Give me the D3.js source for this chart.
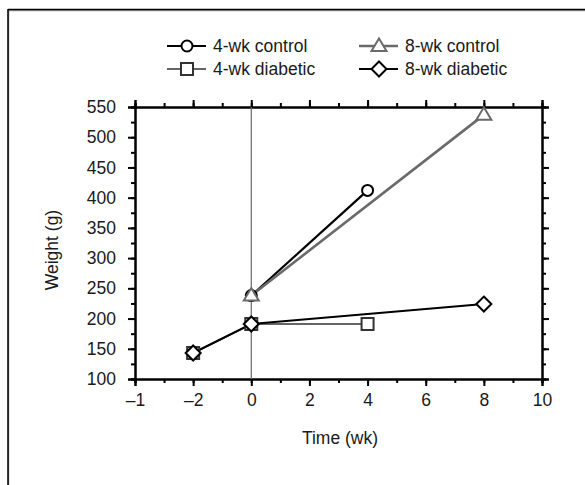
<!DOCTYPE html>
<html><head><meta charset="utf-8">
<script src="https://cdn.jsdelivr.net/npm/d3@7"></script>
<style>body{margin:0;background:#fff}svg{display:block}text{font-family:"Liberation Sans",Arial,sans-serif;fill:#1a1a1a}</style>
</head><body><svg id="c" width="585" height="485"></svg>
<script>
// ---- data ----
const xTickValues = [-4, -2, 0, 2, 4, 6, 8, 10];
const xTickLabels = ["\u20131", "\u20132", "0", "2", "4", "6", "8", "10"];
const yTickValues = [100, 150, 200, 250, 300, 350, 400, 450, 500, 550];
const seriesNames = ["4-wk control", "8-wk control", "4-wk diabetic", "8-wk diabetic"];
const ctrl4 = [{x: 0, y: 238}, {x: 4, y: 412}];
const ctrl8 = [{x: 0, y: 238}, {x: 8, y: 537}];
const diab4 = [{x: -2, y: 143}, {x: 0, y: 191}, {x: 4, y: 191}];
const diab8 = [{x: -2, y: 143}, {x: 0, y: 191}, {x: 8, y: 224}];

const FS = 17.5;
const svg = d3.select("#c");
const L = 135, R = 542, T = 107, B = 379;
const x = d3.scaleLinear().domain([-4, 10]).range([L, R]);
const y = d3.scaleLinear().domain([100, 550]).range([B, T]);

// outer frame (top and left only)
svg.append("line").attr("x1", 8).attr("x2", 585).attr("y1", 10.5).attr("y2", 10.5).attr("stroke", "#999").attr("stroke-width", 1.5);
svg.append("line").attr("x1", 8.5).attr("x2", 8.5).attr("y1", 10).attr("y2", 485).attr("stroke", "#999").attr("stroke-width", 1.5);
svg.append("line").attr("x1", 8).attr("x2", 585).attr("y1", 9.5).attr("y2", 9.5).attr("stroke", "#000").attr("stroke-width", 1.5);
svg.append("line").attr("x1", 8).attr("x2", 8).attr("y1", 9).attr("y2", 485).attr("stroke", "#000").attr("stroke-width", 1.5);

const minorX = d3.range(-4, 10.01, 1);
const minorY = d3.range(100, 550.01, 25);

function styleAxis(g) {
  g.select(".domain").attr("stroke", "#000").attr("stroke-width", 2);
  g.selectAll(".tick line").attr("stroke", "#000").attr("stroke-width", 2);
  g.selectAll("text").attr("font-size", FS).attr("font-family", "Liberation Sans, Arial").attr("fill", "#1a1a1a");
}

// minor ticks
const axes = [
  [d3.axisBottom(x).tickValues(minorX).tickSize(4).tickFormat(""), `translate(0,${B})`],
  [d3.axisTop(x).tickValues(minorX).tickSize(4).tickFormat(""), `translate(0,${T})`],
  [d3.axisLeft(y).tickValues(minorY).tickSize(4).tickFormat(""), `translate(${L},0)`],
  [d3.axisRight(y).tickValues(minorY).tickSize(4).tickFormat(""), `translate(${R},0)`]
];
axes.forEach(([a, t]) => svg.append("g").attr("transform", t).call(a).call(styleAxis));

// major ticks
svg.append("g").attr("transform", `translate(0,${B})`)
  .call(d3.axisBottom(x).tickValues(xTickValues).tickSize(7).tickPadding(8).tickFormat((d, i) => xTickLabels[i]))
  .call(styleAxis);
svg.append("g").attr("transform", `translate(0,${T})`)
  .call(d3.axisTop(x).tickValues(xTickValues).tickSize(7).tickFormat("")).call(styleAxis);
svg.append("g").attr("transform", `translate(${L},0)`)
  .call(d3.axisLeft(y).tickValues(yTickValues).tickSize(7).tickPadding(12))
  .call(styleAxis);
svg.append("g").attr("transform", `translate(${R},0)`)
  .call(d3.axisRight(y).tickValues(yTickValues).tickSize(7).tickFormat("")).call(styleAxis);

// vertical line at x = 0
svg.append("line").attr("x1", x(0)).attr("x2", x(0)).attr("y1", T).attr("y2", B).attr("stroke", "#666").attr("stroke-width", 1.2);

// axis titles
svg.append("text").attr("x", 340).attr("y", 444).attr("text-anchor", "middle").attr("font-size", FS).text("Time (wk)");
svg.append("text").attr("transform", `translate(58,250) rotate(-90)`).attr("text-anchor", "middle").attr("font-size", FS).text("Weight (g)");

const line = d3.line().x(d => x(d.x)).y(d => y(d.y));

const styles = [
  {data: ctrl4, color: "#000", w: 2.2, marker: "circle"},
  {data: ctrl8, color: "#6a6a6a", w: 2.6, marker: "triangle"},
  {data: diab4, color: "#333", w: 1.6, marker: "square"},
  {data: diab8, color: "#000", w: 2, marker: "diamond"}
];

function drawMarker(g, type, cx, cy, color) {
  if (type === "circle") g.append("circle").attr("cx", cx).attr("cy", cy).attr("r", 5.5);
  else if (type === "square") g.append("rect").attr("x", cx - 6).attr("y", cy - 6).attr("width", 12).attr("height", 12);
  else if (type === "diamond") g.append("path").attr("d", `M${cx},${cy - 7.5}L${cx + 7.5},${cy}L${cx},${cy + 7.5}L${cx - 7.5},${cy}Z`);
  else g.append("path").attr("d", `M${cx},${cy - 7.5}L${cx + 7.5},${cy + 5}L${cx - 7.5},${cy + 5}Z`);
  g.selectAll("*").attr("fill", "#fff").attr("stroke", color).attr("stroke-width", 2);
}

// lines
styles.forEach(s => {
  svg.append("path").datum(s.data).attr("d", line).attr("fill", "none").attr("stroke", s.color).attr("stroke-width", s.w);
});
// markers
[0, 2, 1, 3].forEach(i => {
  const s = styles[i];
  s.data.forEach(d => drawMarker(svg.append("g"), s.marker, x(d.x), y(d.y), s.color));
});

// legend
const legPos = [[167, 46], [359, 46], [167, 69], [359, 69]];
styles.forEach((s, i) => {
  const [lx, ly] = legPos[i];
  svg.append("line").attr("x1", lx).attr("x2", lx + 39).attr("y1", ly).attr("y2", ly).attr("stroke", s.color).attr("stroke-width", s.w);
  drawMarker(svg.append("g"), s.marker, lx + 20, ly, s.color);
  svg.append("text").attr("x", lx + 46).attr("y", ly + 6).attr("font-size", FS).text(seriesNames[i]);
});
</script></body></html>
